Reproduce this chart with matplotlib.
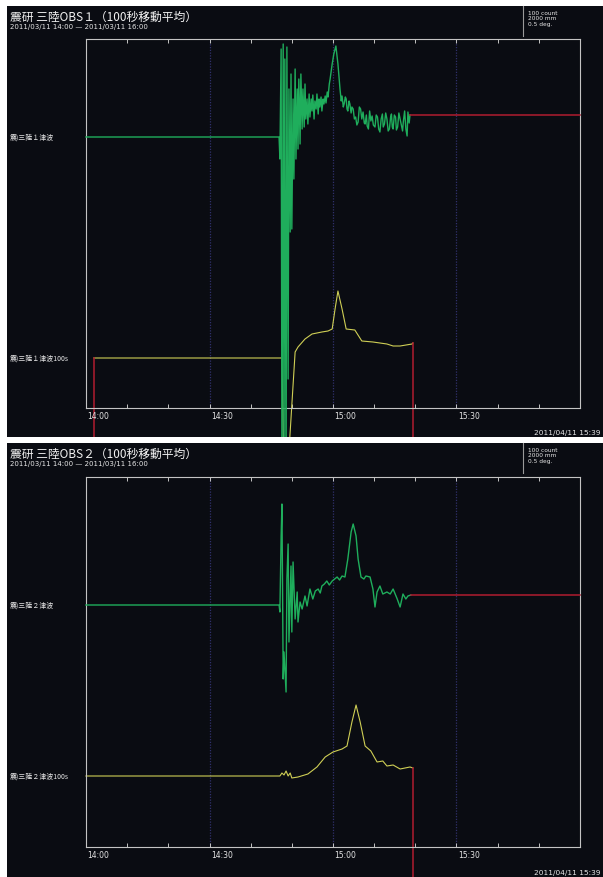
import numpy as np
import matplotlib.pyplot as plt
import matplotlib as mpl
from matplotlib.patches import Rectangle

mpl.rcParams['font.family'] = ['Noto Sans CJK JP', 'DejaVu Sans']

W, H = 603, 878

# ---- data (minutes after 14:00, water level in m) ----
# OBS1 raw tsunami
obs1_t = [0, 46.9, 47.1, 47.4, 47.6, 47.9, 48.1, 48.3, 48.6, 48.8, 49.1, 49.3, 49.6, 49.8,
          50.0, 50.3, 50.5, 50.8, 51.0, 51.3, 51.5, 51.7, 52.0, 52.2, 52.5, 52.7, 53.0,
          53.2, 53.4, 53.7, 53.9, 54.2,
          54.4, 54.7, 54.9, 55.1, 55.4, 55.6, 55.9, 56.1, 56.4, 56.6, 56.8, 57.1, 57.3,
          57.6, 57.8, 58.1, 58.3, 58.6, 58.8, 59.1, 59.3, 59.8, 60.2, 60.7, 61.2,
          61.7, 62.0, 62.2, 62.5, 62.7, 63.0, 63.2, 63.4, 63.6, 63.9, 64.1, 64.4, 64.6,
          64.9, 65.2, 65.5, 65.8, 66.1, 66.4, 66.7, 67.0, 67.3, 67.6, 67.8, 68.1, 68.3,
          68.6, 68.9, 69.2, 69.5, 69.8, 70.2, 70.5, 70.8, 71.1, 71.4, 71.7, 72.0, 72.2,
          72.5, 72.8, 73.1, 73.4, 73.7, 74.0, 74.2, 74.4, 74.6, 74.9, 75.2, 75.4, 75.7,
          76.0, 76.3, 76.6, 76.9, 77.1, 77.4, 77.7, 78.0, 78.2, 78.5, 78.7]
obs1_h = [0, 0, -1.1, 4.4, -17, 4.65, -17, 3.9, -17, 4.5, -12.1, 2.4, -4.75, 3.15,
          -4.6, 1.9, -2.1, 3.4, -1.1, 2.4, -0.6, 2.9, -0.35, 3.15, 0.4, 2.4, 0.5,
          2.65, 0.9, 1.9, 0.65, 2.15,
          1.0, 1.9, 1.3, 2.1, 0.9, 1.8, 1.4, 2.15, 1.15, 1.9, 1.5, 2.0, 1.3,
          1.9, 1.65, 2.05, 1.7, 2.25, 2.0, 2.65, 2.9, 3.65, 4.15, 4.55, 3.65,
          2.4, 1.8, 2.05, 1.5, 1.65, 2.0, 1.9, 1.4, 1.3, 1.8, 1.65, 1.2, 1.5,
          1.4, 0.9, 1.0, 0.6, 0.75, 1.5, 1.4, 0.9, 1.25, 0.7, 0.65, 1.1, 0.55,
          0.4, 1.3, 0.8, 1.05, 0.6, 0.5, 1.1, 1.0, 0.4, 0.25, 0.9, 1.15, 0.5,
          0.65, 1.2, 0.9, 0.3, 0.4, 1.0, 1.15, 0.5, 0.4, 1.1, 1.0, 0.35, 0.5,
          1.2, 0.9, 0.6, 0.3, 0.8, 1.3, 0.4, 0.05, 1.25, 0.7, 1.1]
obs1_tail_t = [78.7, 120]
obs1_tail_h = [1.1, 1.1]

# OBS1 100 s moving average
obs1_avg_t = [1.9, 47.6, 48.1, 48.8, 49.2, 50.8, 51.5, 53.2, 54.9, 57.3, 58.8, 59.8,
              60.5, 61.2, 62.2, 63.2, 65.3, 67.0, 69.7, 73.1, 74.6, 76.3, 79.2, 79.4]
obs1_avg_h = [0, 0, -6, -6, -5, 0.3, 0.55, 0.95, 1.2, 1.3, 1.35, 1.45,
              2.45, 3.35, 2.45, 1.45, 1.4, 0.85, 0.8, 0.7, 0.6, 0.6, 0.7, 0.75]
obs1_avg_bad = [(1.9, -6, 0), (79.5, 0.75, -6)]

# OBS2 raw tsunami
obs2_t = [0, 46.9, 47.1, 47.4, 47.6, 47.9, 48.1, 48.6, 48.8, 49.1, 49.3, 49.8, 50.0,
          50.3, 50.8, 51.3, 51.5, 52.0, 52.5, 53.2, 53.7, 54.4, 55.1, 55.7, 56.4, 56.9,
          57.3, 57.9, 58.5, 59.1, 59.8, 60.4, 61.0, 61.6, 62.2, 62.9, 63.6, 64.4, 64.9,
          65.6, 66.1, 66.8, 67.5, 68.0, 69.0, 69.7, 70.2, 70.7, 71.4, 72.1, 73.1, 73.9,
          74.6, 75.6, 76.3, 77.0, 77.7, 78.2, 78.9]
obs2_h = [0, 0, -0.35, 3.45, 5.05, -3.7, -2.35, -4.35, 1.3, 3.05, -1.85, 1.95, -1.35,
          2.15, -0.7, 0.65, -0.85, 0.15, -0.2, 0.45, -0.05, 0.8, 0.3, 0.7, 0.8, 0.6,
          0.95, 1.05, 1.2, 1.0, 1.2, 1.3, 1.4, 1.25, 1.45, 1.4, 2.3, 3.65, 4.05,
          3.45, 2.3, 1.4, 1.3, 1.45, 1.4, 0.8, -0.1, 0.65, 0.95, 0.55, 0.65, 0.55,
          0.8, 0.3, -0.1, 0.55, 0.3, 0.45, 0.5]
obs2_tail_t = [78.9, 120]
obs2_tail_h = [0.5, 0.5]

# OBS2 100 s moving average
obs2_avg_t = [0, 47.1, 47.6, 48.1, 48.6, 49.1, 49.6, 50.0, 51.5, 53.9, 56.1, 58.1, 60.0,
              62.2, 63.4, 64.6, 65.6, 66.6, 67.8, 69.2, 70.7, 72.1, 73.1, 74.6, 76.3,
              78.7, 79.4]
obs2_avg_h = [0, 0, 0.15, 0.05, 0.25, 0.0, 0.15, -0.1, -0.05, 0.1, 0.45, 0.95, 1.2,
              1.35, 1.5, 2.7, 3.55, 2.7, 1.5, 1.25, 0.7, 0.75, 0.5, 0.55, 0.35,
              0.45, 0.4]
obs2_avg_bad = [(79.5, 0.4, -7)]

time_ticks = [0, 30, 60, 90]
time_labels = ['14:00', '14:30', '15:00', '15:30']

bg = '#0a0c12'
frame_col = '#c4c4c4'
text_col = '#e6e6e6'
green = '#1fae5c'
yellow = '#cfcf55'
red = '#b01c30'
grid_col = '#30306c'

fig = plt.figure(figsize=(W / 100, H / 100), dpi=100)
fig.patch.set_facecolor('white')


def fx(x):
    return x / W


def fy(y):
    return 1 - y / H


def draw_panel(num, ptop, pbot, ftop, fbot, base_raw, base_avg,
               raw_t, raw_h, tail_t, tail_h, avg_t, avg_h, bad):
    px_per_m = 20.0
    panel = Rectangle((fx(7), fy(pbot)), 1 - fx(7), (pbot - ptop) / H,
                      transform=fig.transFigure, facecolor=bg, edgecolor='none', zorder=-5)
    fig.patches.append(panel)

    ax = fig.add_axes([fx(86), fy(fbot), (580 - 86) / W, (fbot - ftop) / H])
    ax.set_facecolor('none')
    ax.set_xlim(0, 120)
    ax.set_ylim(0, (fbot - ftop) / px_per_m)
    for s in ax.spines.values():
        s.set_color(frame_col)
        s.set_linewidth(0.8)
    ax.set_yticks([])
    ax.set_xticks(np.arange(0, 121, 10))
    ax.tick_params(axis='x', direction='in', length=3, width=0.7, color=frame_col,
                   top=True, bottom=True, labelbottom=False)
    for t in time_ticks[1:]:
        ax.axvline(t, color=grid_col, ls=(0, (1, 1.2)), lw=0.9, zorder=1)
    for t, lab in zip(time_ticks, time_labels):
        ax.annotate(lab, xy=(t, 0), xycoords=('data', 'axes fraction'),
                    xytext=(1, -2.5), textcoords='offset points', ha='left', va='top',
                    fontsize=5.5, color=text_col, family='DejaVu Sans')

    off_raw = (fbot - base_raw) / px_per_m
    off_avg = (fbot - base_avg) / px_per_m
    clip = Rectangle((fx(7), fy(pbot)), 1 - fx(7), (pbot - ptop) / H,
                     transform=fig.transFigure)
    lines = []
    lines += ax.plot(raw_t, np.array(raw_h) + off_raw, color=green, lw=1.0, zorder=3)
    lines += ax.plot(tail_t, np.array(tail_h) + off_raw, color=red, lw=1.1, zorder=3)
    lines += ax.plot(avg_t, np.array(avg_h) + off_avg, color=yellow, lw=0.8, zorder=2)
    for t, h0, h1 in bad:
        lines += ax.plot([t, t], [h0 + off_avg, h1 + off_avg], color=red, lw=1.1, zorder=2)
    for ln in lines:
        ln.set_clip_path(clip)

    # header texts
    fig.text(fx(10), fy(ptop + 10), f'震研 三陸OBS{num}（100秒移動平均）', fontsize=8.5,
             color='#f2f2f2', va='center', ha='left')
    fig.text(fx(10), fy(ptop + 20), '2011/03/11 14:00 — 2011/03/11 16:00', fontsize=5,
             color=text_col, va='center', ha='left', family='DejaVu Sans')
    fig.add_artist(plt.Line2D([fx(523), fx(523)], [fy(ptop), fy(ptop + 30)],
                              transform=fig.transFigure, color='#9a9a9a', lw=0.8))
    fig.text(fx(528), fy(ptop + 4), '100 count\n2000 mm\n0.5 deg.', fontsize=4.2,
             color=text_col, va='top', ha='left', linespacing=1.1, family='DejaVu Sans')
    fig.text(fx(600), fy(pbot - 5), '2011/04/11 15:39', fontsize=5.3, color=text_col,
             va='center', ha='right', family='DejaVu Sans')
    fig.text(fx(10), fy(base_raw), f'震)三陸{num}津波', fontsize=5, color=text_col,
             va='center', ha='left')
    fig.text(fx(10), fy(base_avg), f'震)三陸{num}津波100s', fontsize=5, color=text_col,
             va='center', ha='left')
    return ax


draw_panel('１', 7, 438, 40, 409, 138, 359,
           obs1_t, obs1_h, obs1_tail_t, obs1_tail_h, obs1_avg_t, obs1_avg_h, obs1_avg_bad)
draw_panel('２', 444, 878, 478, 848, 606, 777,
           obs2_t, obs2_h, obs2_tail_t, obs2_tail_h, obs2_avg_t, obs2_avg_h, obs2_avg_bad)

fig.savefig('out.png', dpi=100, facecolor=fig.get_facecolor())
